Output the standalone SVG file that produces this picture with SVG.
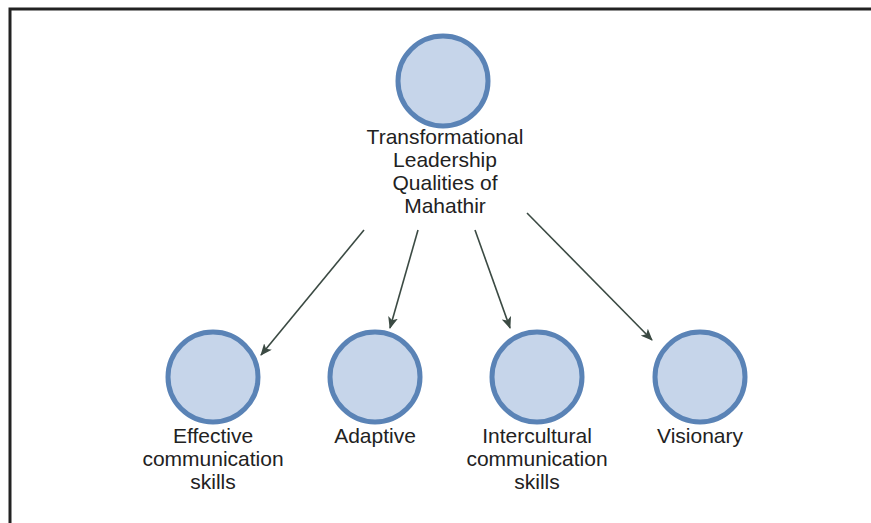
<svg xmlns="http://www.w3.org/2000/svg" width="871" height="523" viewBox="0 0 871 523">
<style>
.node circle{fill:#c6d5ea;stroke:#5a83b6;stroke-width:5}
.node text{font-family:"Liberation Sans",Arial,sans-serif;font-size:21px;fill:#222;text-anchor:middle}
.conn line{stroke:#3b4a43;stroke-width:1.6;marker-end:url(#ah)}
</style>
<defs>
<marker id="ah" viewBox="0 0 12 10" refX="11" refY="5" markerWidth="12" markerHeight="10" markerUnits="userSpaceOnUse" orient="auto">
<path d="M0,0 L12,5 L0,10 L3,5 Z" fill="#3b4a43"/>
</marker>
</defs>
<rect width="871" height="523" fill="#fff"/>
<g id="frame">
<path d="M10,523 V9 H871" fill="none" stroke="#222" stroke-width="3"/>
</g>
<g class="conn" id="connectors">
<line x1="364" y1="230" x2="261" y2="355"/>
<line x1="418" y1="230" x2="390" y2="328"/>
<line x1="475" y1="230" x2="510" y2="328"/>
<line x1="527" y1="213" x2="652" y2="340"/>
</g>
<g class="node" id="n-root">
<circle cx="443" cy="81" r="45"/>
<text x="445" y="144">Transformational</text>
<text x="445" y="167">Leadership</text>
<text x="445" y="190">Qualities of</text>
<text x="445" y="213">Mahathir</text>
</g>
<g class="node" id="n-effective">
<circle cx="213" cy="377" r="45"/>
<text x="213" y="443">Effective</text>
<text x="213" y="466">communication</text>
<text x="213" y="489">skills</text>
</g>
<g class="node" id="n-adaptive">
<circle cx="375" cy="377" r="45"/>
<text x="375" y="443">Adaptive</text>
</g>
<g class="node" id="n-intercultural">
<circle cx="537" cy="377" r="45"/>
<text x="537" y="443">Intercultural</text>
<text x="537" y="466">communication</text>
<text x="537" y="489">skills</text>
</g>
<g class="node" id="n-visionary">
<circle cx="700" cy="377" r="45"/>
<text x="700" y="443">Visionary</text>
</g>
</svg>
